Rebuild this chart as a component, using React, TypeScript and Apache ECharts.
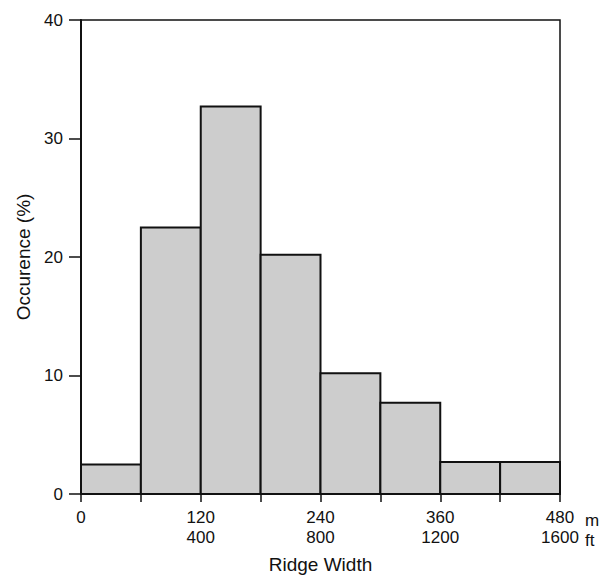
import React, { useEffect, useRef } from "react";
import * as echarts from "echarts";

const binStarts = [0, 60, 120, 180, 240, 300, 360, 420];
const binWidth = 60;
const occurrence = [2.5, 22.5, 32.7, 20.2, 10.2, 7.7, 2.7, 2.7];
const meterTicks = [0, 120, 240, 360, 480];
const feetLabels = ["", "400", "800", "1200", "1600"];
const yTicks = [0, 10, 20, 30, 40];

const FONT = "'Liberation Sans Narrow', 'Liberation Sans', Arial, sans-serif";

export default function App() {
  const ref = useRef<HTMLDivElement>(null);
  useEffect(() => {
    if (!ref.current) return;
    const chart = echarts.init(ref.current, undefined, { renderer: "svg" });
    const data = binStarts.map((s, i) => [s, s + binWidth, occurrence[i]]);
    chart.setOption({
      animation: false,
      backgroundColor: "#ffffff",
      grid: {
        left: 81,
        right: 42,
        top: 20,
        bottom: 82,
        show: true,
        borderColor: "#111",
        borderWidth: 1.5,
        backgroundColor: "transparent",
      },
      xAxis: {
        type: "value",
        min: 0,
        max: 480,
        interval: 60,
        name: "Ridge Width",
        nameLocation: "middle",
        nameGap: 61,
        nameTextStyle: { fontFamily: FONT, fontSize: 19, color: "#111" },
        axisLine: { show: true, onZero: false, lineStyle: { color: "#111", width: 2 } },
        axisTick: { show: true, length: 8, lineStyle: { color: "#111", width: 1.5 } },
        splitLine: { show: false },
        axisLabel: {
          fontFamily: FONT,
          fontSize: 17,
          color: "#111",
          lineHeight: 20,
          margin: 13,
          formatter: (v: number) => {
            const idx = meterTicks.indexOf(v);
            if (idx < 0) return "";
            return feetLabels[idx] ? `${v}\n${feetLabels[idx]}` : `${v}`;
          },
        },
      },
      yAxis: {
        type: "value",
        min: 0,
        max: 40,
        interval: 10,
        name: "Occurence (%)",
        nameLocation: "middle",
        nameGap: 47,
        nameTextStyle: { fontFamily: FONT, fontSize: 19, color: "#111" },
        axisLine: { show: true, lineStyle: { color: "#111", width: 2 } },
        axisTick: { show: true, length: 12, lineStyle: { color: "#111", width: 1.5 } },
        splitLine: { show: false },
        axisLabel: {
          fontFamily: FONT,
          fontSize: 17,
          color: "#111",
          margin: 18,
          formatter: (v: number) => (yTicks.includes(v) ? `${v}` : ""),
        },
      },
      graphic: [
        {
          type: "text",
          left: 585,
          top: 510,
          style: { text: "m\nft", font: `17px ${FONT}`, fill: "#111", lineHeight: 20, textAlign: "left" },
        },
      ],
      series: [
        {
          type: "custom",
          data,
          encode: { x: [0, 1], y: 2 },
          renderItem: (params: any, api: any) => {
            const p0 = api.coord([api.value(0), 0]);
            const p1 = api.coord([api.value(1), api.value(2)]);
            return {
              type: "rect",
              shape: { x: p0[0], y: p1[1], width: p1[0] - p0[0], height: p0[1] - p1[1] },
              style: { fill: "#cdcdcd", stroke: "#111", lineWidth: 2 },
            };
          },
        },
      ],
    });
    return () => chart.dispose();
  }, []);
  return (
    <div
      ref={ref}
      style={{ position: "fixed", left: 0, top: 0, width: 602, height: 579, background: "#fff" }}
    />
  );
}
